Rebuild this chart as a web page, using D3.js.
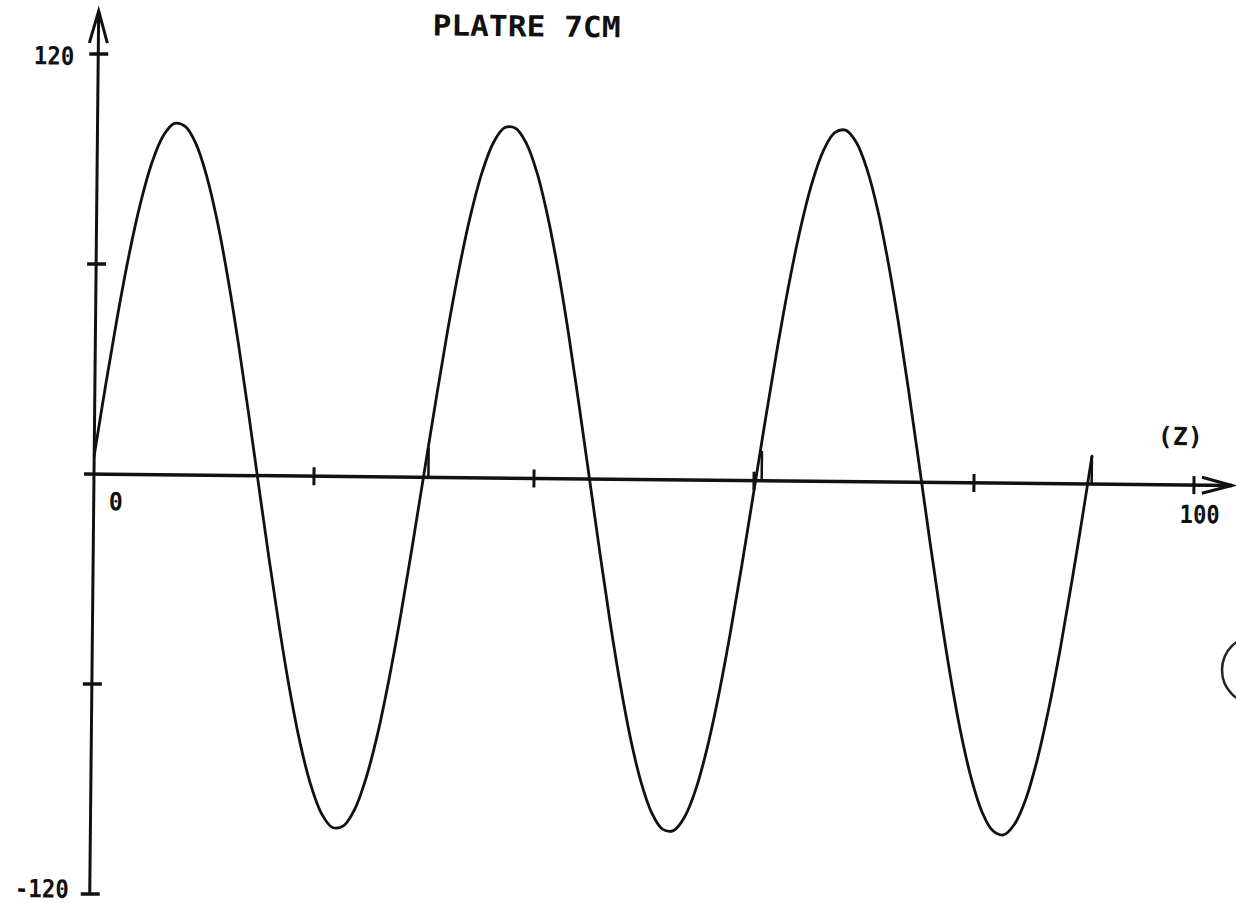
<!DOCTYPE html>
<html>
<head>
<meta charset="utf-8">
<script src="https://cdn.jsdelivr.net/npm/d3@7"></script>
<style>
  html, body { margin: 0; padding: 0; background: #fff; }
  svg { display: block; }
  text { font-family: "DejaVu Sans Mono", "Liberation Mono", monospace; fill: #111; font-weight: bold; }
</style>
</head>
<body>
<svg id="chart" width="1236" height="903"></svg>
<script>
// Plotter trace: PLATRE 7CM, amplitude against depth (Z)
const zValues = [0,1,2,3,4,5,6,7,8,9,10,11,12,13,14,15,16,17,18,19,20,21,22,23,24,25,26,27,28,29,30,
  31,32,33,34,35,36,37,38,39,40,41,42,43,44,45,46,47,48,49,50,51,52,53,54,55,56,57,58,59,60,
  61,62,63,64,65,66,67,68,69,70,71,72,73,74,75,76,77,78,79,80,81,82,83,84,85,86,87,88,89,90,90.7];
const amplitude = [5.2,25.9,45.4,63.0,77.8,89.3,96.9,100.4,99.5,94.4,85.1,72.2,56.2,37.8,17.7,-3.2,-23.9,-43.5,-61.3,-76.5,-88.3,-96.4,-100.3,-99.8,-95.1,-86.2,-73.7,-57.9,-39.7,-19.7,1.1,
  21.8,41.7,59.7,75.1,87.3,95.8,100.1,100.0,95.7,87.3,75.0,59.6,41.6,21.7,1.0,-19.8,-39.8,-58.0,-73.8,-86.3,-95.1,-99.8,-100.2,-96.3,-88.3,-76.4,-61.2,-43.4,-23.7,-3.0,
  17.8,37.9,56.3,72.3,85.2,94.4,99.6,100.4,96.9,89.2,77.7,62.8,45.3,25.7,5.1,-15.8,-36.0,-54.6,-70.9,-84.1,-93.7,-99.2,-100.5,-97.4,-90.2,-79.0,-64.4,-47.1,-27.7,-7.1,8.0];

// short pen strokes back to the axis where the plotter ended each pass
const dropZ = [30.4, 60.7, 90.7];
const dropTop = [8.5, 8.5, 8.0];

const xTicks = [0, 20, 40, 60, 80, 100];
const yTicks = [-120, -60, 0, 60, 120];
const yLabels = [120, -120];
const xLabels = [0, 100];
const title = "PLATRE 7CM";
const axisName = "(Z)";

const svg = d3.select("#chart");
const x = d3.scaleLinear().domain([0, 100]).range([94, 1194]);
const y = d3.scaleLinear().domain([-120, 120]).range([894, 54]);

// the whole sheet sits a little skewed
const g = svg.append("g").attr("transform", `rotate(0.58, ${x(0)}, ${y(0)})`);

const ink = "#111";

// y axis with arrow
g.append("line").attr("x1", x(0)).attr("x2", x(0))
  .attr("y1", y(-120)).attr("y2", y(120) - 43)
  .attr("stroke", ink).attr("stroke-width", 3);
g.append("path")
  .attr("d", `M${x(0) - 9},${y(120) - 11} L${x(0)},${y(120) - 43} L${x(0) + 9},${y(120) - 11}`)
  .attr("fill", "none").attr("stroke", ink).attr("stroke-width", 3).attr("stroke-linejoin", "miter");

// x axis with arrow
g.append("line").attr("x1", x(0) - 10).attr("x2", x(100) + 38)
  .attr("y1", y(0)).attr("y2", y(0))
  .attr("stroke", ink).attr("stroke-width", 3.5);
g.append("path")
  .attr("d", `M${x(100) + 8},${y(0) - 8} L${x(100) + 38},${y(0)} L${x(100) + 8},${y(0) + 8}`)
  .attr("fill", "none").attr("stroke", ink).attr("stroke-width", 3).attr("stroke-linejoin", "miter");

// ticks
g.selectAll(".xt").data(xTicks.filter(d => d !== 0)).join("line")
  .attr("x1", d => x(d)).attr("x2", d => x(d))
  .attr("y1", y(0) - 9).attr("y2", y(0) + 9)
  .attr("stroke", ink).attr("stroke-width", 3);
g.selectAll(".yt").data(yTicks.filter(d => d !== 0)).join("line")
  .attr("x1", x(0) - 9).attr("x2", x(0) + 10)
  .attr("y1", d => y(d)).attr("y2", d => y(d))
  .attr("stroke", ink).attr("stroke-width", 3.5);

// labels
g.selectAll(".yl").data(yLabels).join("text")
  .attr("x", d => x(0) - (d > 0 ? 24 : 21)).attr("y", d => y(d) + (d > 0 ? 11 : 4))
  .attr("text-anchor", "end").attr("font-size", 25)
  .attr("textLength", d => String(d).length * 13.5).attr("lengthAdjust", "spacingAndGlyphs")
  .text(d => d);
g.append("text").attr("x", x(xLabels[0]) + 15).attr("y", y(0) + 36)
  .attr("font-size", 25).attr("textLength", 14).attr("lengthAdjust", "spacingAndGlyphs").text(xLabels[0]);
g.append("text").attr("x", x(xLabels[1]) + 6).attr("y", y(0) + 38)
  .attr("text-anchor", "middle").attr("font-size", 25)
  .attr("textLength", 40).attr("lengthAdjust", "spacingAndGlyphs").text(xLabels[1]);
g.append("text").attr("x", x(100) - 14).attr("y", y(0) - 40)
  .attr("text-anchor", "middle").attr("font-size", 25)
  .attr("textLength", 45).attr("lengthAdjust", "spacingAndGlyphs").text(axisName);
g.append("text").attr("x", 428).attr("y", 32)
  .attr("font-size", 29).attr("textLength", 188).attr("lengthAdjust", "spacingAndGlyphs")
  .text(title);

// the trace
const pts = zValues.map((z, i) => [z, amplitude[i]]);
g.append("path").datum(pts)
  .attr("d", d3.line().x(d => x(d[0])).y(d => y(d[1])).curve(d3.curveCatmullRom.alpha(0.5)))
  .attr("fill", "none").attr("stroke", ink).attr("stroke-width", 2.8)
  .attr("stroke-linejoin", "round").attr("stroke-linecap", "round");

g.selectAll(".drop").data(dropZ).join("line")
  .attr("x1", d => x(d)).attr("x2", d => x(d))
  .attr("y1", (d, i) => y(dropTop[i])).attr("y2", y(0))
  .attr("stroke", ink).attr("stroke-width", 2.5);

// pencil circle at the sheet edge
svg.append("circle").attr("cx", 1256).attr("cy", 670).attr("r", 34)
  .attr("fill", "none").attr("stroke", "#222").attr("stroke-width", 2.5);
</script>
</body>
</html>
